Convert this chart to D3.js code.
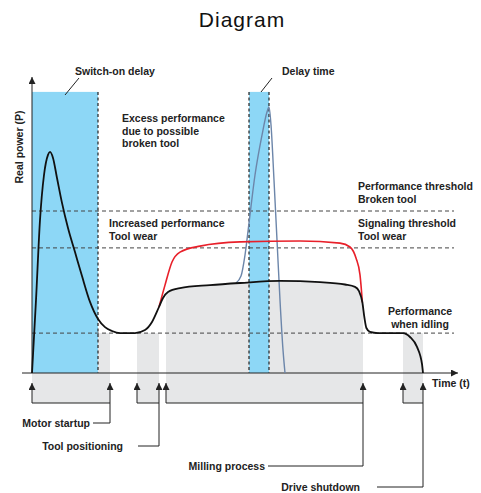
<!DOCTYPE html>
<html>
<head>
<meta charset="utf-8">
<script src="https://cdn.jsdelivr.net/npm/d3@7"></script>
<style>
  body { margin: 0; background: #fff; }
  text { font-family: "Liberation Sans", Arial, sans-serif; }
</style>
</head>
<body>
<div id="plot"></div>
<script>
// Power curves, time in arbitrary units, power in arbitrary units
const normalCurve = [
  [0, 0], [1, 24.3], [2, 51], [3, 66], [4, 72.7], [4.5, 73.7], [5.25, 71.7],
  [6.25, 65], [7.5, 56.7], [9, 48.3], [10.75, 40.3], [12.5, 32.3],
  [14.5, 23.7], [16.5, 18], [18.25, 15.3], [20, 14], [22, 13.3],
  [25.75, 13.3], [28.25, 14.3], [30, 17],
  [31.75, 22], [32.75, 25], [34, 27], [37, 28.3], [44.5, 29.3], [52, 30],
  [62, 30.7], [72, 30.3], [78.25, 29.5], [80.75, 28.7], [81.75, 27.3],
  [82.6, 23.5], [83.1, 18.5], [83.6, 15], [84.5, 13.7], [86.5, 13.3],
  [92.75, 13.3], [94.5, 12], [96.25, 8.7], [97.5, 3], [97.75, 0]
];
const wearCurve = [
  [31.75, 22], [33.25, 29.3], [35, 37], [37, 40.3], [42, 42.3], [52, 43.7],
  [67, 44], [77, 43.3], [79.5, 42], [81, 38.3], [82, 32.7], [82.6, 23.5]
];
const brokenCurve = [
  [51, 30], [52.25, 32.3], [53.25, 39.3], [54.25, 50], [55.75, 66],
  [57.5, 79.3], [58.75, 87], [59.25, 88.7], [59.75, 82.7], [60.5, 64.3],
  [61.25, 44.3], [62, 24.3], [62.75, 7.7], [63.25, 0]
];

// thresholds
const thresholds = { broken: 54, signaling: 41.7, idle: 13.3 };

// shaded windows
const switchOnDelay = [0, 16.5];
const delayTime = [54.25, 59.25];
const boxTop = 93.7;

// phases (start, end)
const phases = [
  { name: "Motor startup", range: [0, 19.5] },
  { name: "Tool positioning", range: [26.25, 31.75] },
  { name: "Milling process", range: [33.5, 82.75] },
  { name: "Drive shutdown", range: [92.75, 97.75] }
];

const W = 481, H = 493;
const x = d3.scaleLinear().domain([0, 105]).range([32, 452]);
const y = d3.scaleLinear().domain([0, 100]).range([373, 73]);

const svg = d3.select("#plot").append("svg")
  .attr("width", W).attr("height", H);

const defs = svg.append("defs");
defs.append("marker")
  .attr("id", "arr")
  .attr("viewBox", "0 0 10 10")
  .attr("refX", 10).attr("refY", 5)
  .attr("markerWidth", 7).attr("markerHeight", 7)
  .attr("markerUnits", "userSpaceOnUse")
  .attr("orient", "auto")
  .append("path").attr("d", "M0,0 L10,5 L0,10 Z").attr("fill", "#222");

// title
svg.append("text")
  .attr("x", 242).attr("y", 27)
  .attr("text-anchor", "middle")
  .attr("font-size", 21)
  .attr("letter-spacing", 1)
  .attr("fill", "#111")
  .text("Diagram");

const gray = "#e6e7e8";
const bottomY = 403;
const fs = 10.5;

// gray phase backgrounds
const lineGen = d3.line().x(d => x(d[0])).y(d => y(d[1])).curve(d3.curveMonotoneX);
const areaGen = d3.area().x(d => x(d[0])).y0(bottomY).y1(d => y(d[1])).curve(d3.curveMonotoneX);

phases.forEach((p, i) => {
  if (p.name === "Milling process") {
    const pts = normalCurve.filter(d => d[0] >= p.range[0] - 1.5 && d[0] <= p.range[1] + 1);
    const clipId = "clip" + i;
    defs.append("clipPath").attr("id", clipId)
      .append("rect")
      .attr("x", x(p.range[0])).attr("y", 0)
      .attr("width", x(p.range[1]) - x(p.range[0])).attr("height", H);
    svg.append("path")
      .attr("d", areaGen(pts))
      .attr("fill", gray)
      .attr("clip-path", `url(#${clipId})`);
  } else {
    svg.append("rect")
      .attr("x", x(p.range[0]))
      .attr("y", y(thresholds.idle))
      .attr("width", x(p.range[1]) - x(p.range[0]))
      .attr("height", bottomY - y(thresholds.idle))
      .attr("fill", gray);
  }
});

// blue windows
const blue = "#8dd7f6";
[switchOnDelay, delayTime].forEach(r => {
  svg.append("rect")
    .attr("x", x(r[0])).attr("y", y(boxTop))
    .attr("width", x(r[1]) - x(r[0]))
    .attr("height", y(0) - y(boxTop))
    .attr("fill", blue);
});
// dashed box edges
[switchOnDelay[1], delayTime[0], delayTime[1]].forEach(v => {
  svg.append("line")
    .attr("x1", x(v)).attr("x2", x(v))
    .attr("y1", y(boxTop)).attr("y2", y(0))
    .attr("stroke", "#222").attr("stroke-width", 1.2)
    .attr("stroke-dasharray", "3,2.5");
});

// threshold lines
Object.values(thresholds).forEach(v => {
  svg.append("line")
    .attr("x1", x(0)).attr("x2", 454)
    .attr("y1", y(v)).attr("y2", y(v))
    .attr("stroke", "#444").attr("stroke-width", 1)
    .attr("stroke-dasharray", "4,3");
});

// axes
svg.append("line")
  .attr("x1", 22).attr("x2", 458)
  .attr("y1", y(0)).attr("y2", y(0))
  .attr("stroke", "#222").attr("stroke-width", 1)
  .attr("marker-end", "url(#arr)");
svg.append("line")
  .attr("x1", x(0)).attr("x2", x(0))
  .attr("y1", y(0)).attr("y2", 77)
  .attr("stroke", "#222").attr("stroke-width", 1)
  .attr("marker-end", "url(#arr)");

// curves
svg.append("path").attr("d", lineGen(brokenCurve))
  .attr("fill", "none").attr("stroke", "#6c86aa").attr("stroke-width", 1.4);
svg.append("path").attr("d", lineGen(wearCurve))
  .attr("fill", "none").attr("stroke", "#e8202a").attr("stroke-width", 1.6);
svg.append("path").attr("d", lineGen(normalCurve))
  .attr("fill", "none").attr("stroke", "#111").attr("stroke-width", 1.8);

// phase arrows and brackets
const arrowTop = 388;
phases.forEach(p => {
  p.range.forEach(v => {
    svg.append("line")
      .attr("x1", x(v)).attr("x2", x(v))
      .attr("y1", bottomY).attr("y2", arrowTop - 5)
      .attr("stroke", "#222").attr("stroke-width", 1)
      .attr("marker-end", "url(#arr)");
  });
  svg.append("line")
    .attr("x1", x(p.range[0])).attr("x2", x(p.range[1]))
    .attr("y1", bottomY).attr("y2", bottomY)
    .attr("stroke", "#222").attr("stroke-width", 1);
});

// leader lines + labels for phases
const leaders = [
  { ly: 423, lx: 93, tx: 90 },
  { ly: 446, lx: 138, tx: 123 },
  { ly: 466, lx: 268, tx: 265 },
  { ly: 487, lx: 377, tx: 360 }
];
phases.forEach((p, i) => {
  const L = leaders[i];
  const ex = x(p.range[1]);
  svg.append("path")
    .attr("d", `M${ex},${bottomY} V${L.ly} H${L.lx}`)
    .attr("fill", "none").attr("stroke", "#222").attr("stroke-width", 1);
  svg.append("text")
    .attr("x", L.tx).attr("y", L.ly + 3.5)
    .attr("text-anchor", "end")
    .attr("font-size", fs).attr("font-weight", "bold").attr("fill", "#222")
    .text(p.name);
});

// annotation text helper
function label(lines, tx, ty, anchor) {
  const t = svg.append("text")
    .attr("font-size", fs).attr("font-weight", "bold").attr("fill", "#222")
    .attr("text-anchor", anchor || "start");
  lines.forEach((s, i) => {
    t.append("tspan").attr("x", tx).attr("y", ty + i * 12.5).text(s);
  });
}

label(["Switch-on delay"], 75, 75);
svg.append("line").attr("x1", 79).attr("y1", 78).attr("x2", 65).attr("y2", 95)
  .attr("stroke", "#222").attr("stroke-width", 1);
label(["Delay time"], 282, 75);
svg.append("line").attr("x1", 272).attr("y1", 78).attr("x2", 261).attr("y2", 92)
  .attr("stroke", "#222").attr("stroke-width", 1);

label(["Excess performance", "due to possible", "broken tool"], 122, 122);
label(["Increased performance", "Tool wear"], 109, 227);
label(["Performance threshold", "Broken tool"], 358, 190);
label(["Signaling threshold", "Tool wear"], 358, 227);
label(["Performance", "when idling"], 420, 315, "middle");
label(["Time (t)"], 432, 387);

// y axis label
svg.append("text")
  .attr("transform", "translate(23,147) rotate(-90)")
  .attr("text-anchor", "middle")
  .attr("font-size", fs).attr("font-weight", "bold").attr("fill", "#222")
  .text("Real power (P)");
</script>
</body>
</html>
